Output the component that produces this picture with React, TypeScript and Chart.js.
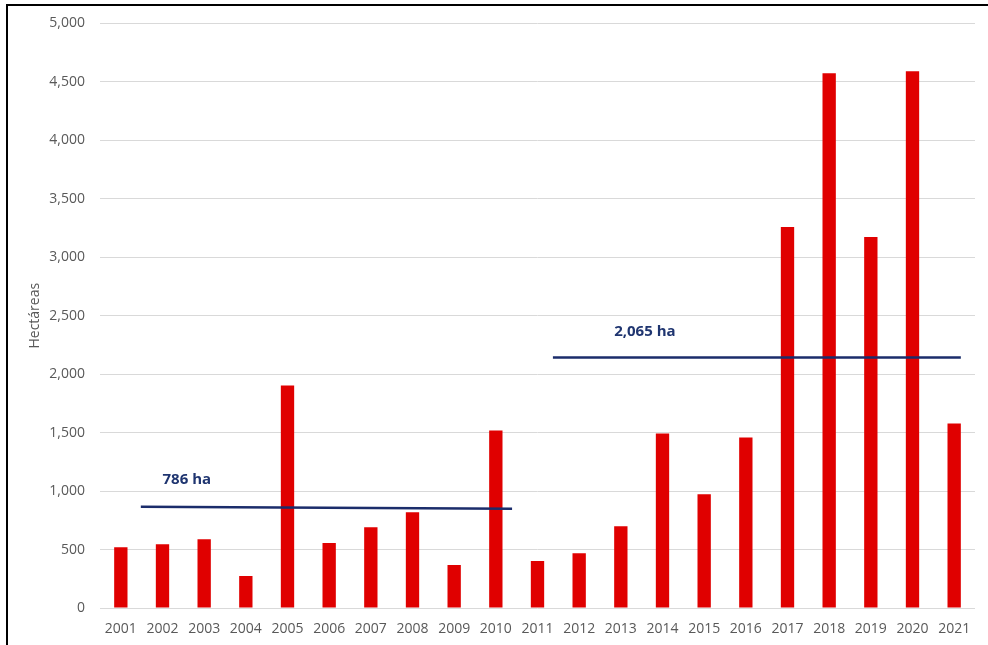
import React, { useEffect, useRef } from "react";
import { Chart, registerables } from "chart.js";

Chart.register(...registerables);

const years = ["2001","2002","2003","2004","2005","2006","2007","2008","2009","2010","2011","2012","2013","2014","2015","2016","2017","2018","2019","2020","2021"];
const hectares = [520, 546, 589, 273, 1903, 555, 691, 819, 367, 1519, 401, 469, 700, 1493, 973, 1459, 3259, 4573, 3174, 4590, 1578];

// average lines (x in category-index units, y in hectares)
const avgLine1 = [{ x: 0.48, y: 866 }, { x: 9.39, y: 849 }];
const avgLine2 = [{ x: 10.37, y: 2142 }, { x: 20.16, y: 2142 }];

const avgLabels = [
  { text: "786 ha", x: 1.0, y: 1095 },
  { text: "2,065 ha", x: 11.84, y: 2360 },
];

const yTicks = { min: 0, max: 5000, step: 500 };

const FONT = "'Open Sans', 'Liberation Sans', sans-serif";
const NAVY = "#1B2D6B";

const labelPlugin = {
  id: "avgLabels",
  afterDatasetsDraw(chart: any) {
    const ctx = chart.ctx;
    const xs = chart.scales.xl;
    const ys = chart.scales.y;
    ctx.save();
    ctx.fillStyle = "#1F3570";
    ctx.font = `bold 15px ${FONT}`;
    ctx.textAlign = "left";
    ctx.textBaseline = "middle";
    avgLabels.forEach((l) => {
      ctx.fillText(l.text, xs.getPixelForValue(l.x), ys.getPixelForValue(l.y));
    });
    ctx.restore();
  },
};

export default function App() {
  const ref = useRef<HTMLCanvasElement | null>(null);
  useEffect(() => {
    if (!ref.current) return;
    const chart = new Chart(ref.current, {
      type: "bar",
      data: {
        labels: years,
        datasets: [
          {
            type: "bar",
            data: hectares,
            backgroundColor: "#E00000",
            borderWidth: 0,
            barPercentage: 0.32,
            categoryPercentage: 1,
            grouped: false,
            xAxisID: "x",
            order: 2,
          } as any,
          {
            type: "line",
            data: avgLine1,
            xAxisID: "xl",
            borderColor: NAVY,
            borderWidth: 2.5,
            pointRadius: 0,
            order: 1,
          } as any,
          {
            type: "line",
            data: avgLine2,
            xAxisID: "xl",
            borderColor: NAVY,
            borderWidth: 2.5,
            pointRadius: 0,
            order: 1,
          } as any,
        ],
      },
      options: {
        responsive: false,
        animation: false,
        layout: { padding: { left: 0, right: 13, top: 22, bottom: 0 } },
        plugins: { legend: { display: false }, tooltip: { enabled: false } },
        scales: {
          x: {
            type: "category",
            offset: true,
            grid: { display: false, drawTicks: false },
            border: { display: false },
            ticks: { color: "#595959", font: { family: FONT, size: 14 }, padding: 13, maxRotation: 0, autoSkip: false },
            afterFit(s: any) { s.height = 37; },
          },
          xl: {
            type: "linear",
            display: false,
            offset: false,
            grid: { offset: false },
            bounds: "data",
            min: -0.5,
            max: 20.5,
          },
          y: {
            min: yTicks.min,
            max: yTicks.max,
            grid: { color: "#D9D9D9", lineWidth: 1, drawTicks: false },
            border: { display: false },
            ticks: {
              stepSize: yTicks.step,
              color: "#595959",
              font: { family: FONT, size: 14 },
              padding: 15,
              callback: (v: any) => Number(v).toLocaleString("en-US"),
            },
            title: {
              display: true,
              text: "Hectáreas",
              color: "#595959",
              font: { family: FONT, size: 14 },
              padding: { top: 27, bottom: 0 },
            },
            afterFit(s: any) { s.width = 100; },
          },
        },
      },
      plugins: [labelPlugin],
    });
    return () => chart.destroy();
  }, []);

  return (
    <div style={{ position: "fixed", left: 0, top: 0, width: 988, height: 645, background: "#fff", overflow: "hidden" }}>
      <canvas ref={ref} width={988} height={645} style={{ position: "absolute", left: 0, top: 0, width: 988, height: 645 }} />
      <div style={{ position: "absolute", left: 6, top: 4, width: 1000, height: 700, borderLeft: "2px solid #000", borderTop: "2px solid #000", pointerEvents: "none" }} />
    </div>
  );
}
